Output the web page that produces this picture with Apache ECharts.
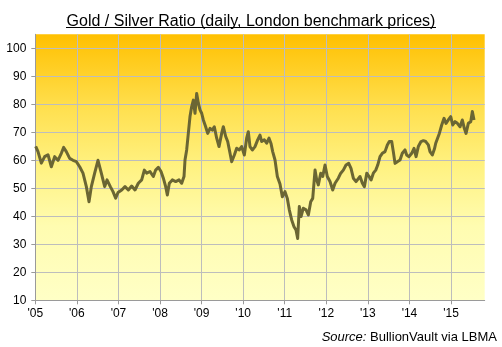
<!DOCTYPE html>
<html>
<head>
<meta charset="utf-8">
<script src="https://cdn.jsdelivr.net/npm/echarts@6/dist/echarts.min.js"></script>
<style>
html,body{margin:0;padding:0;background:#fff;}
#chart{width:502px;height:347px;}
</style>
</head>
<body>
<div id="chart"></div>
<script>
// Decimal-year positions of the readings
const years = [
2005.009,2005.065,2005.145,2005.225,2005.305,2005.386,2005.466,2005.546,2005.626,2005.683,
2005.746,2005.827,2005.907,2005.987,2006.067,2006.147,2006.228,2006.292,2006.348,2006.428,
2006.508,2006.588,2006.669,2006.725,2006.805,2006.869,2006.933,2006.990,2007.078,2007.158,
2007.238,2007.318,2007.398,2007.478,2007.559,2007.623,2007.679,2007.759,2007.839,2007.895,
2007.960,2008.024,2008.080,2008.136,2008.176,2008.224,2008.296,2008.377,2008.457,2008.521,
2008.577,2008.601,2008.641,2008.681,2008.721,2008.762,2008.802,2008.842,2008.882,2008.922,
2008.962,2009.002,2009.042,2009.098,2009.147,2009.203,2009.259,2009.306,2009.363,2009.419,
2009.483,2009.523,2009.580,2009.628,2009.684,2009.724,2009.788,2009.844,2009.908,2009.964,
2010.028,2010.084,2010.124,2010.164,2010.220,2010.285,2010.349,2010.405,2010.446,2010.509,
2010.566,2010.622,2010.670,2010.710,2010.766,2010.822,2010.886,2010.942,2011.006,2011.062,
2011.110,2011.167,2011.223,2011.271,2011.311,2011.351,2011.392,2011.447,2011.512,2011.568,
2011.625,2011.673,2011.729,2011.769,2011.808,2011.866,2011.914,2011.969,2012.024,2012.089,
2012.154,2012.210,2012.289,2012.347,2012.409,2012.474,2012.539,2012.594,2012.650,2012.715,
2012.756,2012.811,2012.868,2012.916,2012.973,2013.029,2013.077,2013.131,2013.189,2013.237,
2013.292,2013.347,2013.412,2013.468,2013.515,2013.573,2013.612,2013.653,2013.708,2013.773,
2013.828,2013.893,2013.934,2013.990,2014.055,2014.110,2014.159,2014.213,2014.278,2014.334,
2014.392,2014.454,2014.494,2014.550,2014.600,2014.632,2014.680,2014.719,2014.776,2014.832,
2014.880,2014.935,2014.993,2015.041,2015.097,2015.153,2015.217,2015.272,2015.320,2015.361,
2015.416,2015.474,2015.513,2015.553
];
// Gold / Silver ratio values
const ratios = [
65,63.1,59,61.3,62,57.7,61.3,60,62.5,64.6,
63.1,60.7,60,59.5,57.7,55.4,50.6,45.2,50.6,55.4,
60,55.4,50.6,53,50.6,48.8,46.5,48.5,49.4,50.6,
49.4,50.8,49.4,51.8,53,56.5,55.4,56,54.2,56.5,
57.5,56,53.6,50.6,47.6,51.8,53,52.4,53,51.8,
54.2,60.1,63.7,69.6,75.6,79.2,81.5,76.8,83.9,80.4,
78,76.8,74.4,72,69.6,71.4,70.8,72,67.9,64.9,
69.6,72,68.5,66.7,62.5,59.5,61.9,64.3,63.7,64.9,
61.9,67.9,70.2,64.9,63.7,64.9,67.3,69,66.7,67.3,
66.1,67.9,66,63.1,60.1,54.2,51.5,47,48.8,46.4,
42.3,38.7,36.3,35.1,32.1,43.5,39.9,42.9,42.3,40.5,
45.2,46.4,56.5,53,51.2,55.4,54.2,58.3,54.2,52.4,
49.4,51.8,53.6,55.4,56.5,58.3,58.9,57.1,53.6,52.4,
52.4,54.2,51.8,50.6,55.4,54.2,53,55.4,56.5,58.3,
61.3,62.5,63.1,65.5,66.7,66.7,63.1,58.9,59.5,60.1,
62.5,63.7,61.9,61.3,62.5,64.3,61.3,64.9,66.7,67,
66.7,65.5,63.1,61.9,64,66.1,66.7,69.6,72.6,75,
73.2,74.4,75.6,72.6,73.8,73.2,72,74.4,71.4,69.6,
73.2,73.8,77.4,74.4
];
// Axis tick labels
const yearLabels = ["'05","'06","'07","'08","'09","'10","'11","'12","'13","'14","'15"];
const yTicks = [10,20,30,40,50,60,70,80,90,100];

const titleText = 'Gold / Silver Ratio (daily, London benchmark prices)';
const sourceLabel = 'Source:';
const sourceText = ' BullionVault via LBMA';

const FONT = '"Liberation Sans", Arial, sans-serif';
const chart = echarts.init(document.getElementById('chart'), null, {renderer: 'canvas'});

const gridC = '#BDBDBD';
const xSplitColors = yearLabels.map(() => gridC).concat(['rgba(0,0,0,0)', 'rgba(0,0,0,0)']);
const ySplitColors = yTicks.map(() => gridC).concat(['rgba(0,0,0,0)', 'rgba(0,0,0,0)']);

chart.setOption({
  animation: false,
  backgroundColor: '#ffffff',
  title: {
    text: titleText,
    left: 'center',
    top: 9,
    textStyle: {fontFamily: FONT, fontSize: 16, fontWeight: 'normal', color: '#000000'}
  },
  grid: {
    left: 35.3, right: 17.3, top: 34.3, bottom: 46.7,
    show: true,
    borderWidth: 0,
    backgroundColor: new echarts.graphic.LinearGradient(0, 0, 0, 1, [
      {offset: 0, color: '#FFC000'},
      {offset: 0.28, color: '#FFE050'},
      {offset: 0.5, color: '#FFF282'},
      {offset: 0.72, color: '#FFFCB0'},
      {offset: 1, color: '#FFFFC6'}
    ])
  },
  xAxis: {
    type: 'value',
    min: 2005,
    max: 2015.81,
    interval: 1,
    axisLine: {show: true, lineStyle: {color: '#9A9A9A', width: 1}},
    axisTick: {show: true, inside: false, length: 4, lineStyle: {color: '#9A9A9A'}},
    axisLabel: {
      fontFamily: FONT, fontSize: 12, color: '#000', margin: 7,
      showMaxLabel: false,
      formatter: function (v) {
        const i = Math.round(v) - 2005;
        return (Math.abs(v - Math.round(v)) < 1e-6 && i >= 0 && i < yearLabels.length) ? yearLabels[i] : '';
      }
    },
    splitLine: {show: true, lineStyle: {color: xSplitColors, width: 1}}
  },
  yAxis: {
    type: 'value',
    min: 10,
    max: 105,
    interval: 10,
    axisLine: {show: true, lineStyle: {color: '#9A9A9A', width: 1}},
    axisTick: {show: true, inside: false, length: 4, lineStyle: {color: '#9A9A9A'}},
    axisLabel: {
      fontFamily: FONT, fontSize: 12, color: '#000', margin: 9,
      showMaxLabel: false,
      formatter: function (v) { return yTicks.indexOf(v) >= 0 ? String(v) : ''; }
    },
    splitLine: {show: true, lineStyle: {color: ySplitColors, width: 1}}
  },
  series: [{
    type: 'line',
    data: years.map((y, i) => [y, ratios[i]]),
    showSymbol: false,
    symbol: 'none',
    lineStyle: {color: '#6B6633', width: 3, join: 'round'},
    z: 3
  }],
  graphic: [
    {
      type: 'line',
      shape: {x1: 66, y1: 27.5, x2: 436, y2: 27.5},
      style: {stroke: '#000', lineWidth: 1},
      silent: true
    },
    {
      type: 'text',
      right: 5,
      top: 331,
      style: {
        text: '{i|' + sourceLabel + '}{n|' + sourceText + '}',
        rich: {
          i: {fontFamily: FONT, fontSize: 13, fontStyle: 'italic', fill: '#000'},
          n: {fontFamily: FONT, fontSize: 13, fill: '#000'}
        }
      }
    }
  ]
});
</script>
</body>
</html>
